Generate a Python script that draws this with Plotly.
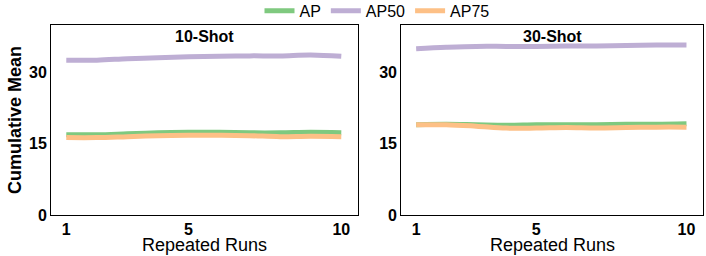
import plotly.graph_objects as go
from plotly.subplots import make_subplots

runs = [1, 2, 3, 4, 5, 6, 7, 8, 9, 10]

ap_10 = [16.9, 16.9, 17.1, 17.3, 17.4, 17.4, 17.3, 17.3, 17.4, 17.3]
ap50_10 = [32.6, 32.6, 32.9, 33.1, 33.3, 33.4, 33.5, 33.5, 33.7, 33.4]
ap75_10 = [16.3, 16.3, 16.5, 16.7, 16.8, 16.8, 16.7, 16.5, 16.6, 16.5]

ap_30 = [19.0, 19.1, 19.0, 18.9, 19.0, 19.0, 19.0, 19.1, 19.1, 19.2]
ap50_30 = [35.0, 35.3, 35.5, 35.5, 35.5, 35.6, 35.6, 35.7, 35.8, 35.8]
ap75_30 = [19.0, 19.0, 18.7, 18.3, 18.3, 18.4, 18.3, 18.4, 18.5, 18.5]

panel_titles = ["10-Shot", "30-Shot"]
series_names = ["AP", "AP50", "AP75"]
colors = ["#7fc97f", "#beaed4", "#fdc086"]
y_ticks = [0, 15, 30]
x_ticks = [1, 5, 10]

panels = [[ap_10, ap50_10, ap75_10], [ap_30, ap50_30, ap75_30]]

fig = make_subplots(rows=1, cols=2, horizontal_spacing=0.066)

for p, data in enumerate(panels):
    for s, vals in enumerate(data):
        fig.add_trace(go.Scatter(
            x=runs, y=vals, mode="lines", name=series_names[s],
            line=dict(color=colors[s], width=5, shape="spline"),
            showlegend=(p == 0), legendgroup=series_names[s],
        ), row=1, col=p + 1)

axis_common = dict(showline=True, linecolor="black", linewidth=1, mirror=True,
                   showgrid=False, zeroline=False, ticks="", automargin=False,
                   tickfont=dict(family="Liberation Sans", size=16, color="black", weight="bold"))

fig.update_xaxes(range=[0.5, 10.55], tickvals=x_ticks, **axis_common)
fig.update_yaxes(range=[0, 40], tickvals=y_ticks, **axis_common)
fig.update_xaxes(domain=[0, 0.471], row=1, col=1)
fig.update_xaxes(domain=[0.537, 1.0], row=1, col=2)

label_font = dict(family="Liberation Sans", size=18, color="black")
for i, t in enumerate(panel_titles):
    xref = "x domain" if i == 0 else "x2 domain"
    yref = "y domain" if i == 0 else "y2 domain"
    fig.add_annotation(text=t, x=0.5, y=0.995, xref=xref, yref=yref,
                       xanchor="center", yanchor="top", showarrow=False,
                       font=dict(family="Liberation Sans", size=16, color="black", weight="bold"))
    fig.add_annotation(text="Repeated Runs", x=0.5, y=0, xref=xref, yref=yref,
                       xanchor="center", yanchor="middle", yshift=-30, showarrow=False,
                       font=label_font)

fig.add_annotation(text="Cumulative Mean", x=0, y=0.5, xref="x domain", yref="y domain",
                   xanchor="center", yanchor="middle", xshift=-36, textangle=-90,
                   showarrow=False,
                   font=dict(family="Liberation Sans", size=18, color="black", weight="bold"))

fig.update_layout(
    width=706, height=256,
    margin=dict(l=51, r=3, t=25, b=41, autoexpand=False),
    plot_bgcolor="white", paper_bgcolor="white",
    legend=dict(orientation="h", x=0.5, xanchor="center", y=1.074, yanchor="middle",
                font=dict(family="Liberation Sans", size=16, color="black"),
                tracegroupgap=0, bgcolor="rgba(0,0,0,0)"),
)

fig.write_html("out.html", config={"displayModeBar": False},
               post_script="document.body.style.margin='0';")
